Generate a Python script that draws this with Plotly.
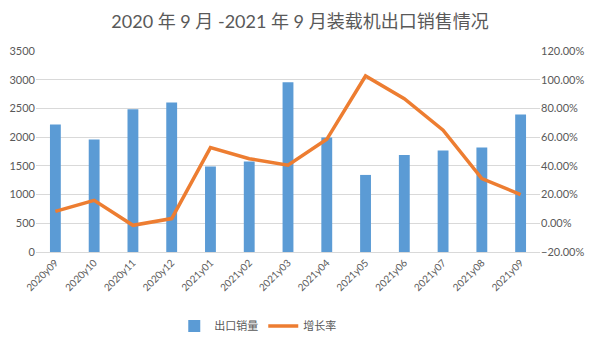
import plotly.graph_objects as go

months = ["2020y09", "2020y10", "2020y11", "2020y12", "2021y01", "2021y02", "2021y03",
          "2021y04", "2021y05", "2021y06", "2021y07", "2021y08", "2021y09"]
export_sales = [2220, 1960, 2485, 2605, 1487, 1575, 2955, 1992, 1342, 1690, 1766, 1818, 2393]
growth_rate = [0.083, 0.160, -0.014, 0.033, 0.527, 0.450, 0.404, 0.585, 1.026, 0.868, 0.648, 0.311, 0.200]

title_text = "2020 年 9 月 -2021 年 9 月装载机出口销售情况"
font_family = "Lato, 'Noto Sans CJK SC', sans-serif"
text_color = "#595959"

fig = go.Figure()
fig.add_trace(go.Bar(x=months, y=export_sales, name="出口销量",
                     marker=dict(color="#5B9BD5", line=dict(width=0)), width=0.28))
fig.add_trace(go.Scatter(x=months, y=growth_rate, name="增长率", yaxis="y2", mode="lines",
                         line=dict(color="#ED7D31", width=3.5)))

fig.update_layout(
    width=600, height=340,
    margin=dict(l=36, r=60, t=51, b=88, autoexpand=False),
    paper_bgcolor="white", plot_bgcolor="white",
    font=dict(family=font_family, color=text_color, size=11),
    title=dict(text=title_text, x=0.5, xanchor="center", y=1 - 22 / 340, yanchor="middle",
               font=dict(size=18, color=text_color, family=font_family)),
    xaxis=dict(tickangle=-45, showgrid=False, showline=True, linecolor="#D9D9D9",
               tickfont=dict(size=10, color=text_color), ticks="", automargin=False),
    yaxis=dict(range=[0, 3500], dtick=500, showgrid=True, gridcolor="#D9D9D9", zeroline=False,
               tickfont=dict(size=11, color=text_color), ticks="", automargin=False),
    yaxis2=dict(range=[-0.2, 1.2], dtick=0.2, overlaying="y", side="right", showgrid=False,
                zeroline=False, tickformat=".2%", tickfont=dict(size=11, color=text_color),
                automargin=False),
    legend=dict(orientation="h", x=0.44, xanchor="center", y=-0.368, yanchor="middle",
                font=dict(size=11, color=text_color), itemwidth=30, tracegroupgap=0),
    bargap=0.72,
)

fig.write_html("out.html")
